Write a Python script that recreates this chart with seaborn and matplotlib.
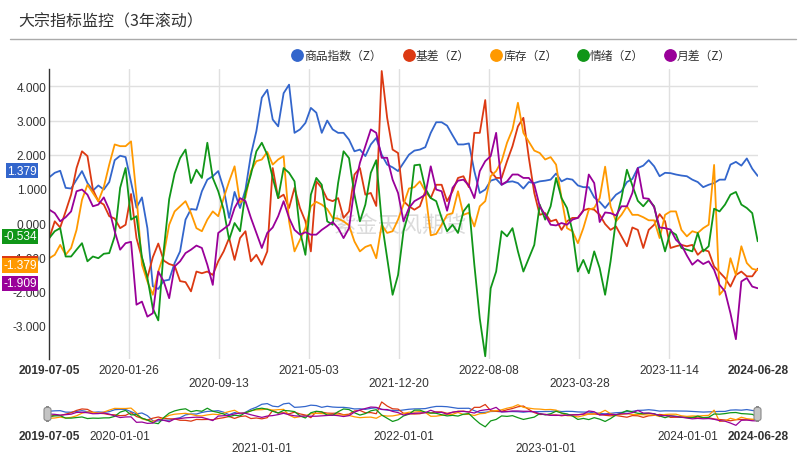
import numpy as np
import pandas as pd
import matplotlib
matplotlib.use('Agg')
import matplotlib.pyplot as plt
import matplotlib.transforms as mtransforms
from matplotlib.lines import Line2D
from matplotlib.patches import FancyBboxPatch
import seaborn as sns

sns.set_theme(style='white')
plt.rcParams['font.family'] = ['Liberation Sans', 'Noto Sans CJK SC', 'DejaVu Sans']

# ---------------- data ----------------
dates = pd.date_range('2019-07-05', periods=131, freq='14D')

commodity = [
    1.34, 1.47, 1.53, 1.03, 1.01, 1.27, 1.52, 1.17, 0.95, 1.10,
    0.98, 1.20, 1.84, 1.97, 1.93, 1.20, 0.45, 0.75, -0.15, -1.85,
    -1.93, -1.69, -1.66, -1.17, -0.83, 0.10, 0.41, 0.39, 0.93, 1.27,
    1.37, 1.52, 1.01, 0.15, 0.91, 0.44, 0.98, 2.00, 2.69, 3.67,
    3.90, 3.03, 2.83, 3.80, 4.05, 2.64, 2.74, 2.93, 3.37, 3.23,
    2.64, 3.00, 2.74, 2.64, 2.64, 2.44, 2.10, 2.15, 1.96, 2.30,
    2.49, 2.00, 1.71, 1.63, 1.52, 1.76, 2.00, 2.12, 2.15, 2.22,
    2.64, 2.95, 2.95, 2.85, 2.57, 2.30, 2.30, 2.33, 1.52, 0.88,
    0.98, 1.24, 1.29, 1.12, 1.20, 1.22, 1.17, 1.01, 1.20, 1.17,
    1.22, 1.24, 1.27, 1.45, 1.22, 1.30, 1.27, 1.10, 1.05, 1.05,
    0.75, 0.62, 0.44, 0.64, 0.83, 0.93, 1.20, 1.29, 1.61, 1.68,
    1.84, 1.66, 1.37, 1.47, 1.46, 1.42, 1.39, 1.37, 1.27, 1.20,
    1.05, 1.12, 1.17, 1.27, 1.27, 1.71, 1.79, 1.68, 1.89, 1.59,
    1.379]

basis = [
    -0.44, 0.05, -0.13, 0.34, 0.83, 1.61, 2.10, 1.96, 0.98, 0.64,
    0.54, 0.20, 0.13, -0.15, -0.05, 0.85, -0.44, -1.03, -1.60, -1.00,
    -0.60, -1.10, -1.20, -1.25, -1.70, -1.73, -2.00, -1.42, -1.47, -1.42,
    -1.52, -1.12, -0.83, -0.44, -1.08, -0.44, -0.24, -1.12, -0.93, -1.22,
    -0.83, 1.61, 0.73, 0.83, 0.44, 1.03, 0.44, 0.05, -0.83, 1.22,
    1.03, 0.70, 0.64, 0.73, 0.15, 0.34, 1.42, 1.61, 0.83, 0.88,
    0.50, 4.45, 3.08, 2.15, 2.05, 0.64, 0.49, 0.39, 0.49, 0.93,
    0.73, 1.12, 1.12, 0.64, 0.93, 1.32, 1.37, 1.05, 2.64, 2.64,
    3.60, 1.52, 1.32, 1.32, 1.81, 2.25, 2.83, 3.08, 1.91, 0.88,
    0.24, 0.29, 0.05, 0.10, -0.20, 0.05, 0.15, 0.15, 0.37, 0.42,
    0.39, 0.24, -0.03, -0.20, -0.10, -0.39, -0.68, -0.13, -0.20, -0.73,
    -0.20, -0.05, 0.26, 0.05, -0.73, -0.68, -0.64, -0.68, -0.64, -0.93,
    -0.78, -0.83, -1.27, -1.44, -1.61, -1.86, -1.52, -1.42, -1.56, -1.56,
    -1.335]

inventory = [
    -1.03, -0.93, -0.64, -0.93, -0.73, -0.20, 0.68, 1.12, 0.88, 0.64,
    1.05, 1.71, 2.30, 2.25, 2.25, 2.39, 0.80, -1.22, -1.71, -2.10,
    -1.42, -0.93, -0.05, 0.34, 0.49, 0.64, 0.29, -0.15, -0.24, 0.10,
    0.34, 0.20, 0.73, 1.22, 1.66, 0.59, 0.75, 1.52, 1.81, 1.86,
    2.08, 1.71, 1.86, 1.96, 0.05, -0.83, -0.49, -0.15, 0.49, 0.62,
    0.54, 0.41, 0.15, 0.13, 0.05, -0.07, -0.54, -0.83, -0.70, -0.64,
    -1.03, -0.05, -0.29, -0.24, 0.10, 0.54, 1.01, 1.05, 1.22, 0.93,
    -0.36, -0.32, -0.05, 0.24, 0.29, 0.93, 0.24, 0.30, -0.10, 0.49,
    0.64, 1.37, 1.52, 1.81, 2.35, 2.74, 3.52, 2.64, 2.38, 2.12,
    2.05, 1.86, 1.93, 1.71, 0.73, -0.15, -0.24, -0.59, -0.15, 0.39,
    0.44, 0.73, 1.65, 0.49, 0.05, 0.24, 0.49, 0.24, 0.24, 0.17,
    0.08, 0.08, -0.44, 0.24, 0.34, 0.34, -0.20, -0.39, -0.24, -0.29,
    -0.15, -0.05, 1.70, -2.10, -1.91, -1.03, -1.52, -0.68, -1.17, -1.34,
    -1.379]

sentiment = [
    -0.44, -0.24, -0.15, -0.98, -0.98, -0.78, -0.59, -1.12, -0.98, -1.03,
    -0.90, -0.88, -0.39, 1.03, 1.61, 0.10, 0.20, -1.00, -1.60, -2.50,
    -2.85, -0.80, 0.70, 1.45, 1.90, 2.15, 1.17, 1.56, 1.32, 2.35,
    1.32, 0.93, 0.39, -0.49, 0.00, -0.24, 0.88, 1.42, 2.10, 2.35,
    2.00, 1.32, 0.73, 1.61, 1.47, 1.22, -0.24, -0.93, 0.83, 1.32,
    1.12, 0.05, -0.05, 1.17, 2.10, 1.90, 0.83, 0.05, 0.54, 1.47,
    1.84, 0.05, -1.03, -2.10, -1.52, -0.24, 0.34, 1.69, 1.71, 1.01,
    0.73, 0.64, 0.15, -0.24, -0.05, -0.29, 0.34, 0.55, -1.22, -2.80,
    -3.90, -1.91, -1.42, -0.24, -0.39, -0.15, -0.83, -1.42, -1.03, -0.64,
    0.54, 0.10, 0.49, 1.32, 0.73, 0.44, -0.24, -1.42, -1.08, -1.47,
    -0.83, -1.32, -2.10, -1.12, 0.10, 0.73, 1.56, 1.10, 0.65, 0.49,
    0.68, 0.49, -0.24, -0.83, -0.24, -0.34, -0.73, -0.78, -0.83, -0.29,
    -0.83, -0.68, 0.42, 0.34, 0.54, 0.83, 0.91, 0.54, 0.44, 0.29,
    -0.534]

spread = [
    0.39, 0.29, 0.05, 0.17, 0.34, 0.93, 0.98, 0.83, 0.49, 0.54,
    0.75, 0.39, -0.24, -0.78, -0.59, -0.55, -2.39, -2.30, -2.74, -2.64,
    -1.42, -1.71, -2.20, -1.27, -1.12, -0.88, -0.78, -0.66, -0.73, -1.22,
    -1.81, -0.29, -0.17, -0.05, 0.44, 0.73, 0.64, 0.15, -0.29, -0.73,
    -0.29, -0.13, 0.20, 0.64, 0.15, -0.20, -0.34, -0.27, -0.34, -0.34,
    -0.20, -0.09, 0.03, -0.15, -0.44, -0.15, 1.03, 1.76, 2.25, 2.74,
    2.64, 1.91, 1.91, 1.27, 0.88, 0.05, 0.44, 0.64, 0.73, 0.83,
    1.66, 0.98, 0.93, 0.36, 1.03, 1.24, 1.27, 1.10, 0.73, 1.52,
    1.81, 1.96, 2.64, 1.12, 1.22, 1.42, 1.42, 1.32, 1.32, 1.12,
    0.49, 0.24, -0.05, -0.07, 0.00, -0.05, 0.10, 0.15, 0.36, 1.42,
    1.17, 0.03, 0.31, 0.29, 0.22, 0.49, 0.49, 0.88, 1.61, 0.73,
    0.71, 0.46, -0.13, -0.15, -0.19, -0.49, -0.64, -0.95, -1.22, -1.08,
    -1.20, -1.12, -1.37, -1.81, -2.00, -2.64, -3.40, -1.71, -1.61, -1.86,
    -1.909]

series_names = ['商品指数（Z）', '基差（Z）', '库存（Z）', '情绪（Z）', '月差（Z）']
series_values = [commodity, basis, inventory, sentiment, spread]
colors = ['#3366cc', '#dc3912', '#ff9900', '#109618', '#990099']

main_tick_labels = ['2019-07-05', '2020-01-26', '2020-09-13', '2021-05-03', '2021-12-20',
                    '2022-08-08', '2023-03-28', '2023-11-14', '2024-06-28']
slider_tick_labels = ['2019-07-05', '2020-01-01', '2021-01-01', '2022-01-01',
                      '2023-01-01', '2024-01-01', '2024-06-28']
y_ticks = [-3, -2, -1, 0, 1, 2, 3, 4]
title = '大宗指标监控（3年滚动）'
watermark = '紫金天风期货'

for v in series_values:
    assert len(v) == len(dates), len(v)

df = pd.DataFrame({
    'date': np.tile(dates.values, len(series_names)),
    'value': np.concatenate([np.asarray(v, float) for v in series_values]),
    'series': np.repeat(series_names, len(dates)),
})

# ---------------- layout ----------------
W, H = 806, 460
fig = plt.figure(figsize=(W / 100, H / 100), dpi=100)
fig.patch.set_facecolor('white')

x0, x1 = 49.3, 757.7
y_top, y_bot = 70.3, 360.0
ax = fig.add_axes([x0 / W, 1 - y_bot / H, (x1 - x0) / W, (y_bot - y_top) / H])
ax.set_facecolor('white')

sns.lineplot(data=df, x='date', y='value', hue='series', hue_order=series_names,
             palette=colors, linewidth=1.3, estimator=None, legend=False, ax=ax)

ax.set_xlim(dates[0], dates[-1])
ax.set_ylim(-3.98, 4.5)
ax.set_xlabel('')
ax.set_ylabel('')

# y axis
ax.set_yticks(y_ticks)
ax.set_yticklabels([f'{v:.3f}' for v in y_ticks])
ax.tick_params(axis='y', length=0, pad=2, labelsize=8.6, labelcolor='#333333')

# x axis (two staggered rows)
tick_dates = pd.to_datetime(main_tick_labels)
lbls = []
for i, t in enumerate(main_tick_labels):
    lbls.append(t if i in (0, 1, 3, 5, 7, 8) else '\n' + t)
ax.set_xticks(tick_dates)
ax.set_xticklabels(lbls, linespacing=1.1)
ax.tick_params(axis='x', length=0, pad=3.5, labelsize=8.6, labelcolor='#333333')
for i in (0, len(lbls) - 1):
    ax.get_xticklabels()[i].set_fontweight('bold')

for s in ['top', 'right', 'bottom']:
    ax.spines[s].set_visible(False)
ax.spines['left'].set_color('#333333')
ax.spines['left'].set_linewidth(1.0)
ax.grid(False)
for yv in [2, 3, 4]:
    ax.axhline(yv, color='#e0e0e0', lw=1.0, zorder=0)
for td in tick_dates[1:-1]:
    ax.axvline(td, color='#e0e0e0', lw=1.0, zorder=0)

# watermark
ax.text((400 - x0) / (x1 - x0), (y_bot - 226) / (y_bot - y_top), watermark,
        transform=ax.transAxes, ha='center', va='center', fontsize=16,
        color='#999999', alpha=0.35, zorder=0.5, family=['Noto Sans CJK SC'])

# end-value labels on the left
trans = mtransforms.blended_transform_factory(fig.transFigure, ax.transData)
trans = mtransforms.offset_copy(trans, fig=fig, x=0, y=5, units='dots')
for name, vals, c in zip(series_names, series_values, colors):
    if name == '基差（Z）':
        label = f'{vals[-1]:.3f}'
    else:
        label = f'{vals[-1]:.3f}'
for idx in [1, 0, 2, 3, 4]:
    vals, c = series_values[idx], colors[idx]
    ax.text(37 / W, vals[-1], f'{vals[-1]:.3f}', transform=trans, ha='right', va='center',
            fontsize=8.6, color='white', zorder=10, clip_on=False,
            bbox=dict(boxstyle='square,pad=0.12', fc=c, ec='none'))

# ---------------- title & legend ----------------
fig.text(18 / W, 1 - 22 / H, title, fontsize=11.5, color='#333333', ha='left', va='center',
         family=['Noto Sans CJK SC'])
fig.add_artist(Line2D([10 / W, 796 / W], [1 - 40 / H] * 2, color='#aaaaaa', lw=1.0))

leg_x = [297.4, 408.5, 496.4, 583.0, 670.0]
for xc, name, c in zip(leg_x, series_names, colors):
    fig.add_artist(Line2D([xc / W], [1 - 56 / H], marker='o', markersize=8.2, color=c,
                          linestyle='none'))
    fig.text((xc + 7) / W, 1 - 56.5 / H, name, fontsize=8.5, color='#333333',
             ha='left', va='center', family=['Noto Sans CJK SC'])

# ---------------- slider (mini chart) ----------------
s_top, s_bot = 400.0, 430.0
ax2 = fig.add_axes([x0 / W, 1 - s_bot / H, (x1 - x0) / W, (s_bot - s_top) / H])
ax2.set_facecolor('none')
sns.lineplot(data=df, x='date', y='value', hue='series', hue_order=series_names,
             palette=colors, linewidth=0.9, estimator=None, legend=False, ax=ax2)
ax2.set_xlim(dates[0], dates[-1])
ax2.set_ylim(-4.63, 5.44)
ax2.set_xlabel('')
ax2.set_ylabel('')
ax2.set_yticks([])
s_dates = pd.to_datetime(slider_tick_labels)
s_lbls = [t if i in (0, 1, 3, 5, 6) else '\n' + t for i, t in enumerate(slider_tick_labels)]
ax2.set_xticks(s_dates)
ax2.set_xticklabels(s_lbls, linespacing=1.0)
ax2.tick_params(axis='x', length=0, pad=1, labelsize=8.6, labelcolor='#333333')
for i in (0, len(s_lbls) - 1):
    ax2.get_xticklabels()[i].set_fontweight('bold')
for s in ax2.spines.values():
    s.set_visible(False)
ax2.grid(False)

for hx in (44.0, 754.0):
    fig.add_artist(FancyBboxPatch((hx / W, 1 - 422 / H), 7 / W, 14 / H,
                                  boxstyle='round,pad=0,rounding_size=0.006',
                                  fc='#c4c4c4', ec='#8a8a8a', lw=0.8,
                                  transform=fig.transFigure))

fig.savefig('out.png', dpi=100)
